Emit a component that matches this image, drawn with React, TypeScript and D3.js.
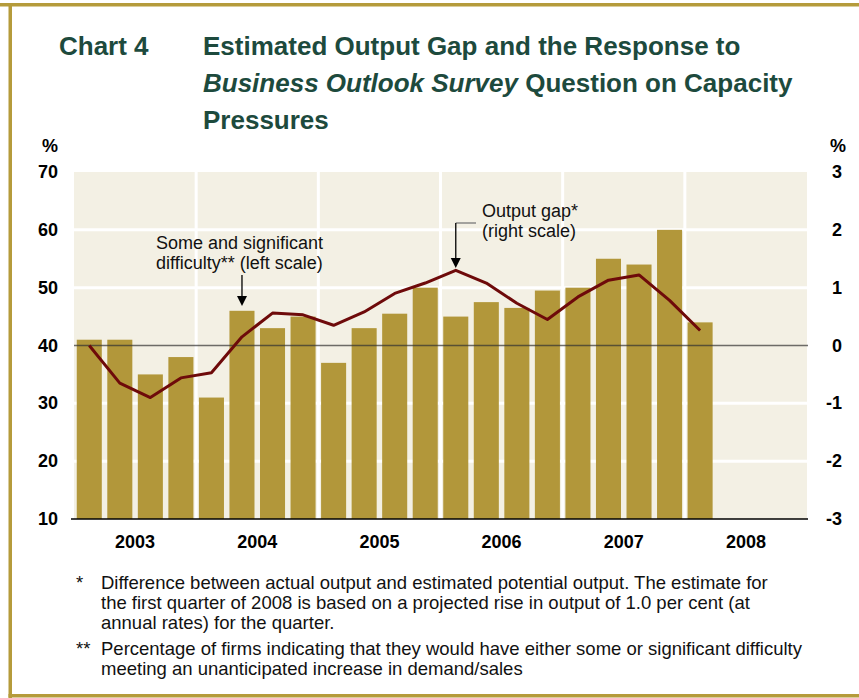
import React from "react";
import * as d3 from "d3";

const quarters = [
  "2003Q1","2003Q2","2003Q3","2003Q4",
  "2004Q1","2004Q2","2004Q3","2004Q4",
  "2005Q1","2005Q2","2005Q3","2005Q4",
  "2006Q1","2006Q2","2006Q3","2006Q4",
  "2007Q1","2007Q2","2007Q3","2007Q4",
  "2008Q1","2008Q2","2008Q3","2008Q4",
];
const years = ["2003", "2004", "2005", "2006", "2007", "2008"];
const dataQuarters = quarters.slice(0, 21);
const difficulty = [41, 41, 35, 38, 31, 46, 43, 45, 37, 43, 45.5, 50, 45, 47.5, 46.5, 49.5, 50, 55, 54, 60, 44];
const outputGap = [0, -0.65, -0.9, -0.56, -0.47, 0.15, 0.56, 0.53, 0.35, 0.58, 0.9, 1.08, 1.3, 1.08, 0.73, 0.45, 0.84, 1.13, 1.22, 0.78, 0.26];
const leftTicks = [10, 20, 30, 40, 50, 60, 70];
const rightTicks = [-3, -2, -1, 0, 1, 2, 3];
const gridTicks = [20, 30, 50, 60];

const FONT = "'Liberation Sans', Arial, Helvetica, sans-serif";
const GOLD = "#b59b3b";
const BAR = "#b2973a";
const BG = "#f3f0e4";
const GREEN = "#1d4a3d";
const LINE = "#6e0a0a";

export default function App() {
  const W = 859, H = 698;
  const L = 74, R = 807, T = 172, B = 519;
  const x = d3.scaleBand<string>().domain(quarters).range([L, R]).paddingInner(0.18).paddingOuter(0.09);
  const xYear = d3.scaleBand<string>().domain(years).range([L, R]);
  const yL = d3.scaleLinear().domain([10, 70]).range([B, T]);
  const yR = d3.scaleLinear().domain([-3, 3]).range([B, T]);
  const cx = (q: string) => (x(q) as number) + x.bandwidth() / 2;
  const line = d3.line<number>().x((_, i) => cx(dataQuarters[i])).y((d) => yR(d));

  const arrow1x = cx("2004Q2");
  const arrow2x = cx("2006Q1");

  return (
    <svg width={W} height={H} style={{ position: "absolute", left: 0, top: 0, background: "#fff" }} fontFamily={FONT}>
      {/* frame */}
      <rect x={0} y={3} width={W} height={3.5} fill={GOLD} />
      <rect x={8.5} y={3} width={3.5} height={H - 3} fill={GOLD} />
      <rect x={8.5} y={694} width={W} height={3.5} fill={GOLD} />

      {/* title */}
      <text x={59} y={55} fontSize={26} fontWeight="bold" fill={GREEN}>Chart 4</text>
      <text x={203} y={55} fontSize={26} fontWeight="bold" fill={GREEN}>Estimated Output Gap and the Response to</text>
      <text x={203} y={92} fontSize={26} fontWeight="bold" fill={GREEN}>
        <tspan fontStyle="italic">Business Outlook Survey</tspan>
        <tspan> Question on Capacity</tspan>
      </text>
      <text x={203} y={129} fontSize={26} fontWeight="bold" fill={GREEN}>Pressures</text>

      {/* plot bg */}
      <rect x={L} y={T} width={R - L} height={B - T} fill={BG} />
      {gridTicks.map((t) => (
        <line key={"h" + t} x1={L} x2={R} y1={yL(t)} y2={yL(t)} stroke="#fff" strokeWidth={3} />
      ))}
      {years.slice(1).map((yr) => (
        <line key={"v" + yr} x1={xYear(yr)} x2={xYear(yr)} y1={T} y2={B} stroke="#fff" strokeWidth={3} />
      ))}

      {/* bars */}
      {difficulty.map((v, i) => (
        <rect key={dataQuarters[i]} x={x(dataQuarters[i])} y={yL(v)} width={x.bandwidth()} height={B - yL(v)} fill={BAR} />
      ))}

      {/* zero line */}
      <line x1={L} x2={R + 1} y1={yR(0)} y2={yR(0)} stroke="rgba(50,50,50,0.7)" strokeWidth={1.5} />
      {/* bottom axis */}
      <line x1={L - 3} x2={R + 1} y1={B} y2={B} stroke="#000" strokeWidth={1.5} />

      {/* output gap line */}
      <path d={line(outputGap) || ""} fill="none" stroke={LINE} strokeWidth={3} strokeLinejoin="round" />

      {/* left axis */}
      <text x={58} y={152} fontSize={18} fontWeight="bold" textAnchor="end">%</text>
      {leftTicks.map((t) => (
        <text key={"l" + t} x={58} y={yL(t) + 6} fontSize={18} fontWeight="bold" textAnchor="end">{t}</text>
      ))}
      {/* right axis */}
      <text x={846} y={152} fontSize={18} fontWeight="bold" textAnchor="end">%</text>
      {rightTicks.map((t) => (
        <text key={"r" + t} x={842} y={yR(t) + 6} fontSize={18} fontWeight="bold" textAnchor="end">{t}</text>
      ))}
      {/* years */}
      {years.map((yr) => (
        <text key={"y" + yr} x={(xYear(yr) as number) + xYear.bandwidth() / 2} y={548} fontSize={18} fontWeight="bold" textAnchor="middle">{yr}</text>
      ))}

      {/* annotations */}
      <text x={156} y={248.5} fontSize={18} fill="#111">Some and significant</text>
      <text x={156} y={269} fontSize={18} fill="#111">difficulty** (left scale)</text>
      <line x1={arrow1x} x2={arrow1x} y1={275} y2={297} stroke="#000" strokeWidth={1.3} />
      <path d={`M${arrow1x - 5},${296} L${arrow1x + 5},${296} L${arrow1x},${306} Z`} fill="#000" />

      <text x={482} y={216.5} fontSize={18} fill="#111">Output gap*</text>
      <text x={482} y={237} fontSize={18} fill="#111">(right scale)</text>
      <line x1={arrow2x} x2={476} y1={223} y2={223} stroke="#777" strokeWidth={1.3} />
      <line x1={arrow2x} x2={arrow2x} y1={223} y2={259} stroke="#000" strokeWidth={1.3} />
      <path d={`M${arrow2x - 5},${258} L${arrow2x + 5},${258} L${arrow2x},${268} Z`} fill="#000" />

      {/* footnotes */}
      <g fontSize={18.5} fill="#111">
        <text x={76} y={589}>*</text>
        <text x={101} y={589}>Difference between actual output and estimated potential output. The estimate for</text>
        <text x={101} y={609}>the first quarter of 2008 is based on a projected rise in output of 1.0 per cent (at</text>
        <text x={101} y={629}>annual rates) for the quarter.</text>
        <text x={76} y={655}>**</text>
        <text x={101} y={655}>Percentage of firms indicating that they would have either some or significant difficulty</text>
        <text x={101} y={675}>meeting an unanticipated increase in demand/sales</text>
      </g>
    </svg>
  );
}
